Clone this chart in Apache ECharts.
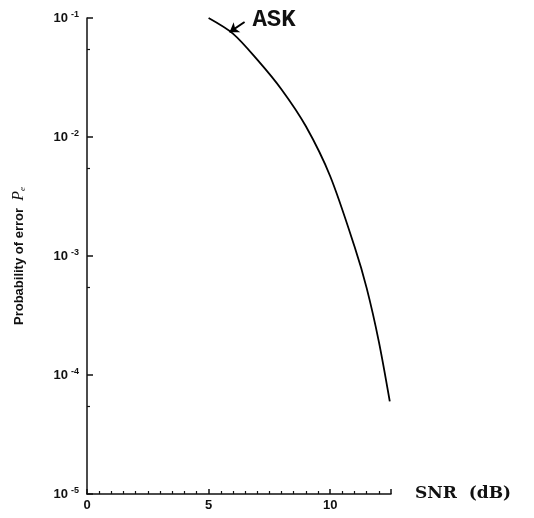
<!DOCTYPE html>
<html>
<head>
<meta charset="utf-8">
<script src="https://cdn.jsdelivr.net/npm/echarts@6/dist/echarts.min.js"></script>
<style>
html,body{margin:0;padding:0;background:#fff;}
#chart{width:534px;height:518px;}
</style>
</head>
<body>
<div id="chart"></div>
<script>
// ASK error probability curve
var snr = [5, 6, 7, 8, 9, 10, 11, 11.5, 12, 12.45];
var pe = [0.1, 0.074, 0.0447, 0.0251, 0.0123, 0.00468, 0.0012, 0.000537, 0.000191, 0.00006];
var xTicks = [0, 5, 10];

var chart = echarts.init(document.getElementById('chart'));

var curve = snr.map(function (s, i) { return [s, pe[i]]; });

option = {
    backgroundColor: '#fff',
    grid: {
        left: 87,
        top: 18,
        width: 304,
        height: 476
    },
    xAxis: {
        type: 'value',
        min: 0,
        max: 12.5,
        interval: 5,
        name: 'SNR  (dB)',
        nameLocation: 'end',
        nameGap: 24,
        nameTextStyle: {fontFamily: 'DejaVu Serif', fontWeight: 'bold', fontSize: 17, color: '#111', verticalAlign: 'middle'},
        axisLine: {lineStyle: {color: '#111', width: 1.5}},
        axisTick: {inside: true, length: 5, lineStyle: {color: '#111', width: 1.5}},
        minorTick: {show: true, splitNumber: 10, length: 3, lineStyle: {color: '#111', width: 1.2}},
        splitLine: {show: false},
        axisLabel: {
            showMaxLabel: false,
            margin: 5,
            fontFamily: 'Liberation Sans', fontWeight: 'bold', fontSize: 13, color: '#111',
            formatter: function (v) { return xTicks.indexOf(v) >= 0 ? String(v) : ''; }
        }
    },
    yAxis: {
        type: 'log',
        logBase: 10,
        min: 1e-5,
        max: 1e-1,
        name: '{n|Probability of error  }{p|P}{s|e}',
        nameLocation: 'middle',
        nameRotate: 90,
        nameGap: 60,
        nameTextStyle: {
            rich: {
                n: {fontFamily: 'Liberation Sans', fontWeight: 'bold', fontSize: 13, color: '#111'},
                p: {fontFamily: 'Liberation Serif', fontStyle: 'italic', fontSize: 16, color: '#111'},
                s: {fontFamily: 'Liberation Serif', fontStyle: 'italic', fontSize: 9, color: '#111', verticalAlign: 'bottom', padding: [7, 0, 0, 0]}
            }
        },
        axisLine: {show: true, lineStyle: {color: '#111', width: 1.5}},
        axisTick: {inside: true, length: 6, lineStyle: {color: '#111', width: 1.5}},
        minorTick: {show: true, splitNumber: 2, length: 3, lineStyle: {color: '#111', width: 1.2}},
        splitLine: {show: false},
        axisLabel: {
            margin: 8,
            formatter: function (v) {
                var e = Math.round(Math.log(v) / Math.LN10);
                return '{b|10}{e|-' + (-e) + '}';
            },
            rich: {
                b: {fontFamily: 'Liberation Sans', fontWeight: 'bold', fontSize: 13, color: '#111'},
                e: {fontFamily: 'Liberation Sans', fontWeight: 'bold', fontSize: 9, color: '#111', verticalAlign: 'top', padding: [0, 0, 6, 3]}
            }
        }
    },
    series: [{
        type: 'line',
        data: curve,
        smooth: 0.3,
        showSymbol: false,
        lineStyle: {color: '#000', width: 1.8},
        markPoint: {
            symbol: 'circle',
            symbolSize: 0,
            data: [{coord: [6.8, 0.096]}],
            label: {
                show: true,
                position: 'right',
                distance: 0,
                formatter: 'ASK',
                fontFamily: 'Liberation Mono', fontWeight: 'bold', fontSize: 24, color: '#111'
            }
        },
        markLine: {
            silent: true,
            symbol: ['none', 'arrow'],
            symbolSize: 9,
            label: {show: false},
            lineStyle: {color: '#000', width: 2, type: 'solid'},
            data: [[{coord: [6.48, 0.0925]}, {coord: [5.86, 0.076]}]]
        }
    }]
};

chart.setOption(option);
</script>
</body>
</html>
